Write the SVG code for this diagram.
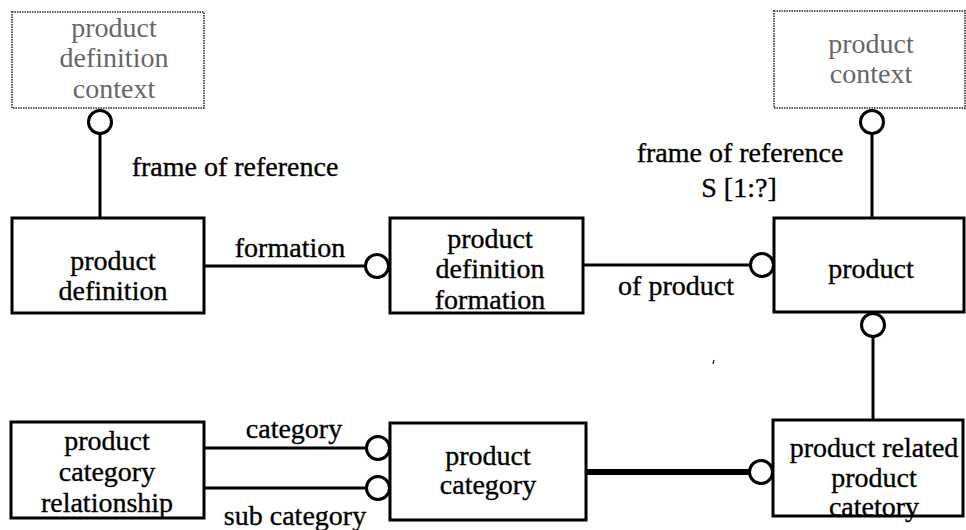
<svg xmlns="http://www.w3.org/2000/svg" width="966" height="530" viewBox="0 0 966 530">
  <style>
    text { font-family: "Liberation Serif", "Times New Roman", serif; font-size: 28px; fill: #000; stroke: #000; stroke-width: 0.35; text-anchor: middle; }
    .ctx text { fill: #666; stroke: none; }
    .ctx rect { fill: #fff; stroke: #5a5a5a; stroke-width: 2; stroke-dasharray: 1.5 1; }
    .ent rect { fill: #fff; stroke: #000; stroke-width: 3; }
    #connectors line { stroke: #000; stroke-width: 3; }
    #connectors .thick { stroke-width: 6; }
    #connectors circle { fill: #fff; stroke: #000; stroke-width: 3; }
  </style>

  <!-- relationship lines and optional-end circles -->
  <g id="connectors">
    <line x1="100" y1="133" x2="100" y2="218"/>
    <circle cx="100" cy="122" r="11.5"/>

    <line x1="872" y1="133" x2="872" y2="218"/>
    <circle cx="872" cy="122" r="11.5"/>

    <line x1="204" y1="266" x2="366" y2="266"/>
    <circle cx="377" cy="266" r="11.5"/>

    <line x1="583" y1="265" x2="751" y2="265"/>
    <circle cx="762" cy="265" r="11.5"/>

    <line x1="873" y1="336" x2="873" y2="420"/>
    <circle cx="873" cy="325" r="11.5"/>

    <line x1="204" y1="448" x2="367" y2="448"/>
    <circle cx="378" cy="448" r="11.5"/>

    <line x1="204" y1="488" x2="367" y2="488"/>
    <circle cx="378" cy="488" r="11.5"/>

    <line class="thick" x1="586" y1="472" x2="750" y2="472"/>
    <circle cx="761" cy="472" r="11.5"/>
  </g>

  <!-- relationship labels -->
  <g id="labels">
    <text x="235" y="176">frame of reference</text>
    <text x="740" y="162">frame of reference</text>
    <text x="739" y="197">S [1:?]</text>
    <text x="290" y="257">formation</text>
    <text x="676" y="295">of product</text>
    <text x="294" y="438">category</text>
    <text x="295" y="525">sub category</text>
  </g>

  <!-- context entities (drawn in grey) -->
  <g id="product_definition_context" class="ctx">
    <rect x="12" y="12" width="192" height="96"/>
    <text x="114" y="37">product</text>
    <text x="114" y="67">definition</text>
    <text x="114" y="98">context</text>
  </g>

  <g id="product_context" class="ctx">
    <rect x="774" y="11" width="191" height="97"/>
    <text x="871" y="53">product</text>
    <text x="871" y="83">context</text>
  </g>

  <!-- entities -->
  <g id="product_definition" class="ent">
    <rect x="12" y="218" width="192" height="95"/>
    <text x="113" y="270">product</text>
    <text x="113" y="300">definition</text>
  </g>

  <g id="product_definition_formation" class="ent">
    <rect x="390" y="218" width="193" height="95"/>
    <text x="490" y="248">product</text>
    <text x="490" y="278">definition</text>
    <text x="490" y="309">formation</text>
  </g>

  <g id="product" class="ent">
    <rect x="774" y="218" width="190" height="94"/>
    <text x="871" y="278">product</text>
  </g>

  <g id="product_category_relationship" class="ent">
    <rect x="11" y="422" width="193" height="96"/>
    <text x="107" y="450">product</text>
    <text x="107" y="481">category</text>
    <text x="107" y="512">relationship</text>
  </g>

  <g id="product_category" class="ent">
    <rect x="390" y="423" width="196" height="97"/>
    <text x="488" y="465">product</text>
    <text x="488" y="494">category</text>
  </g>

  <g id="product_related_product_category" class="ent">
    <rect x="773" y="420" width="190" height="96"/>
    <text x="874" y="457">product related</text>
    <text x="874" y="487">product</text>
    <text x="874" y="516">catetory</text>
  </g>

  <!-- small stray tick -->
  <line x1="714" y1="360" x2="713" y2="364" stroke="#000" stroke-width="1.2"/>
</svg>
